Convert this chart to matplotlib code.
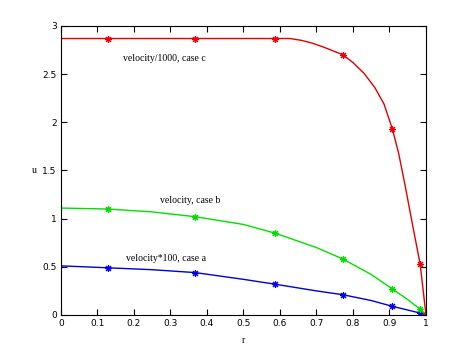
import matplotlib.pyplot as plt

# node positions (markers)
r_nodes = [0.128, 0.368, 0.586, 0.773, 0.908, 0.984, 1.0]
u_a_nodes = [0.49, 0.44, 0.32, 0.21, 0.09, 0.02, 0.0]
u_b_nodes = [1.10, 1.02, 0.85, 0.58, 0.27, 0.06, 0.0]
u_c_nodes = [2.87, 2.87, 2.87, 2.70, 1.93, 0.53, 0.0]

# curve readings
r_a = [0.0, 0.128, 0.25, 0.368, 0.5, 0.586, 0.7, 0.773, 0.85, 0.908, 0.984, 1.0]
u_a = [0.51, 0.49, 0.47, 0.44, 0.37, 0.32, 0.25, 0.21, 0.15, 0.09, 0.02, 0.0]
r_b = [0.0, 0.128, 0.25, 0.368, 0.5, 0.586, 0.7, 0.773, 0.85, 0.908, 0.95, 0.984, 1.0]
u_b = [1.11, 1.10, 1.07, 1.02, 0.94, 0.85, 0.70, 0.58, 0.42, 0.27, 0.16, 0.06, 0.0]
r_c = [0.0, 0.5, 0.627, 0.66, 0.69, 0.72, 0.773, 0.80, 0.83, 0.86, 0.885, 0.908, 0.925, 0.942, 0.965, 0.984, 1.0]
u_c = [2.87, 2.87, 2.87, 2.85, 2.82, 2.78, 2.70, 2.62, 2.51, 2.36, 2.19, 1.93, 1.68, 1.36, 0.90, 0.53, 0.0]

fig = plt.figure(figsize=(4.72, 3.54), dpi=100)
ax = fig.add_axes([0.1292, 0.1102, 0.7733, 0.8164])

star = (8, 2, 0)
ax.plot(r_a, u_a, color='#0000cc', lw=1)
ax.plot(r_nodes, u_a_nodes, ls='none', marker=star, ms=5, mew=0.8, color='#0000ee')
ax.plot(r_b, u_b, color='#00e000', lw=1)
ax.plot(r_nodes, u_b_nodes, ls='none', marker=star, ms=5, mew=0.8, color='#00dd00')
ax.plot(r_c, u_c, color='#e00000', lw=1)
ax.plot(r_nodes, u_c_nodes, ls='none', marker=star, ms=5, mew=0.8, color='#ee0000')

tfont = dict(family='Liberation Serif', fontsize=7)
ax.text(0.171, 2.64, 'velocity/1000, case c', **tfont)
ax.text(0.27, 1.16, 'velocity, case b', **tfont)
ax.text(0.177, 0.56, 'velocity*100, case a', **tfont)

ax.set_xlim(0, 1)
ax.set_ylim(0, 3)
ax.set_xticks([0, 0.1, 0.2, 0.3, 0.4, 0.5, 0.6, 0.7, 0.8, 0.9, 1])
ax.set_xticklabels(['0', '0.1', '0.2', '0.3', '0.4', '0.5', '0.6', '0.7', '0.8', '0.9', '1'])
ax.set_yticks([0, 0.5, 1, 1.5, 2, 2.5, 3])
ax.set_yticklabels(['0', '0.5', '1', '1.5', '2', '2.5', '3'])
ax.tick_params(direction='in', top=True, right=True, labelsize=6.5, length=4, width=0.8, pad=3)
for s in ax.spines.values():
    s.set_linewidth(0.8)

ax.set_xlabel('r', fontsize=7, family='Liberation Serif', labelpad=6)
ax.set_ylabel('u', fontsize=7, family='Liberation Serif', rotation=0, labelpad=6, va='center')

fig.savefig('out.png', dpi=100)
